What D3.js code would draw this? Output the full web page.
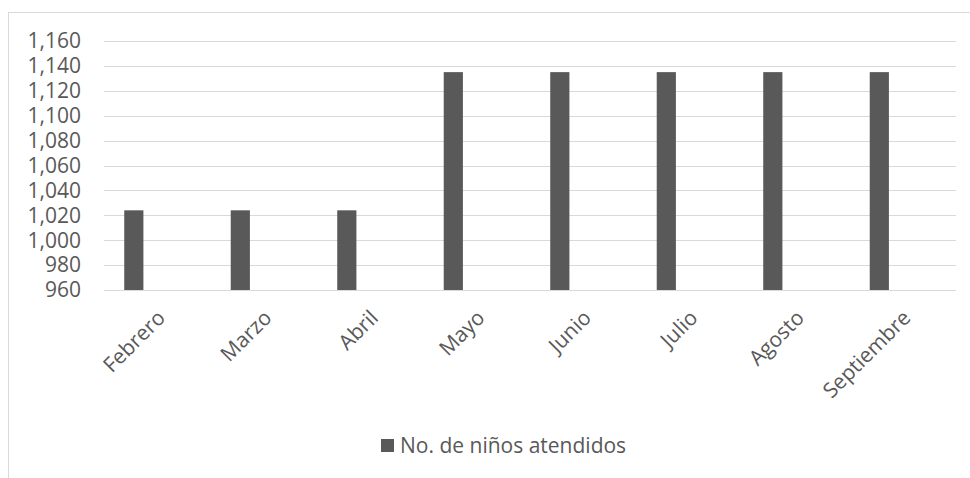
<!DOCTYPE html>
<html>
  <head>
    <meta charset="utf-8" />
    <style>
      body { margin: 0; background: #fff; }
      #chart { width: 970px; height: 478px; }
      text { font-family: "Open Sans", sans-serif; fill: #595959; }
      .grid line { stroke: #d9d9d9; stroke-width: 1; }
    </style>
  </head>
  <body>
    <div id="chart"></div>
    <script src="https://d3js.org/d3.v7.min.js"></script>
    <script>
    var months = ["Febrero", "Marzo", "Abril", "Mayo", "Junio", "Julio", "Agosto", "Septiembre"];
    var ninos = [1024, 1024, 1024, 1135, 1135, 1135, 1135, 1135];
    var yTicks = [960, 980, 1000, 1020, 1040, 1060, 1080, 1100, 1120, 1140, 1160];
    var seriesName = "No. de niños atendidos";

    var width = 970,
        height = 478,
        barColor = "#595959";

    var svg = d3.select("#chart")
      .append("svg")
      .attr("width", width)
      .attr("height", height);

    // outer frame
    svg.append("rect")
      .attr("x", 8.5)
      .attr("y", 12.5)
      .attr("width", 980)
      .attr("height", 490)
      .attr("fill", "none")
      .attr("stroke", "#d9d9d9");

    var x = d3.scaleBand()
      .domain(months)
      .range([104, 956]);

    var y = d3.scaleLinear()
      .domain([960, 1160])
      .range([290, 41]);

    // gridlines
    svg.append("g")
      .attr("class", "grid")
      .selectAll("line")
      .data(yTicks)
      .enter().append("line")
      .attr("x1", 104)
      .attr("x2", 956)
      .attr("y1", function(d) { return Math.round(y(d)) + 0.5; })
      .attr("y2", function(d) { return Math.round(y(d)) + 0.5; });

    // y labels
    svg.append("g")
      .selectAll("text")
      .data(yTicks)
      .enter().append("text")
      .attr("x", 81)
      .attr("y", function(d) { return y(d); })
      .attr("dy", "0.35em")
      .attr("text-anchor", "end")
      .style("font-size", "21px")
      .text(function(d) { return d3.format(",")(d); });

    // bars (sit left of category centre, as in the source)
    var bw = x.bandwidth();
    svg.append("g")
      .selectAll("rect")
      .data(months)
      .enter().append("rect")
      .attr("x", function(d) { return x(d) + bw * 0.19; })
      .attr("width", bw * 0.18)
      .attr("y", function(d, i) { return y(ninos[i]); })
      .attr("height", function(d, i) { return y(960) - y(ninos[i]); })
      .attr("fill", barColor);

    // x labels
    svg.append("g")
      .selectAll("text")
      .data(months)
      .enter().append("text")
      .attr("transform", function(d) {
        return "translate(" + (x(d) + bw / 2 - 2) + ",308) rotate(-45)";
      })
      .attr("dy", "0.75em")
      .attr("text-anchor", "end")
      .style("font-size", "21px")
      .text(function(d) { return d; });

    // legend
    var legend = svg.append("g")
      .attr("transform", "translate(381,439)");
    legend.append("rect")
      .attr("width", 13)
      .attr("height", 13)
      .attr("fill", barColor);
    legend.append("text")
      .attr("x", 19)
      .attr("y", 14)
      .style("font-size", "21px")
      .text(seriesName);
    </script>
  </body>
</html>
